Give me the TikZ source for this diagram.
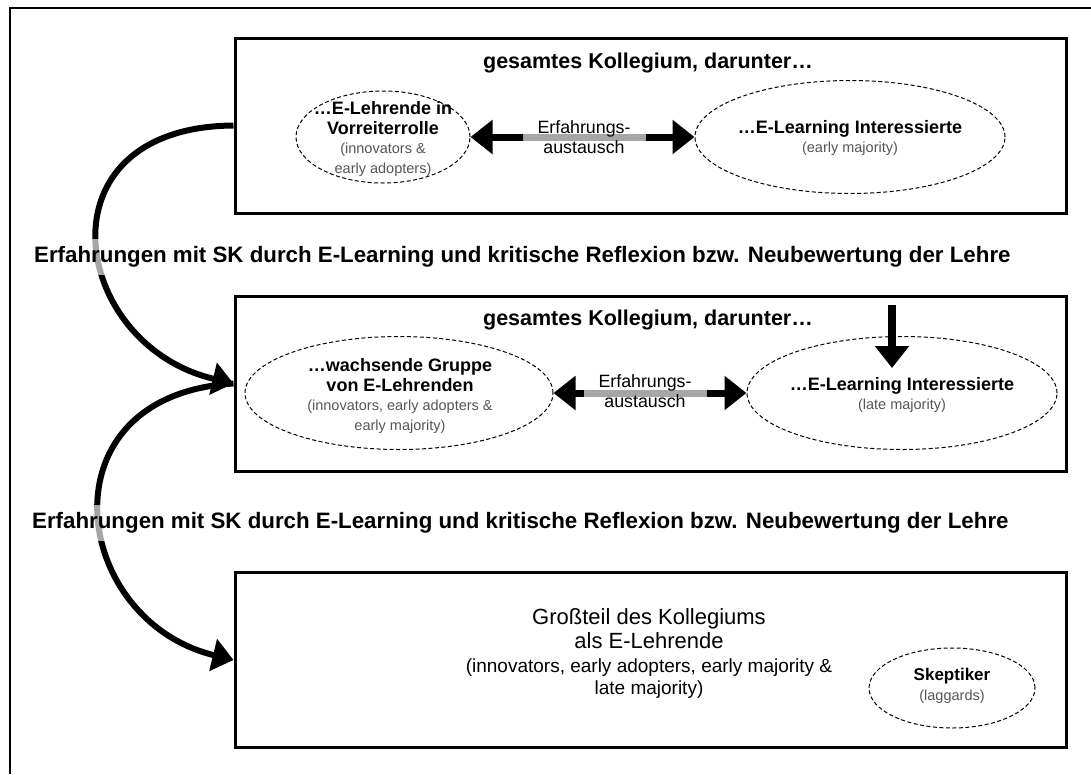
\documentclass[tikz,border=0pt]{standalone}
\usepackage{fontspec}
\setmainfont{Liberation Sans}
\usetikzlibrary{arrows.meta,shapes.geometric}
\definecolor{subgray}{RGB}{85,85,85}
\begin{document}
\begin{tikzpicture}[x=1pt,y=-1pt,
  stage/.style={draw,line width=3pt,inner sep=0pt,minimum width=831pt,minimum height=175pt},
  group/.style={draw,ellipse,line width=1pt,dash pattern=on 4pt off 2.5pt,inner sep=0pt},
  heading/.style={font=\fontsize{21.5}{24}\selectfont\bfseries},
  grouptext/.style={align=center,inner sep=0pt,font=\fontsize{18}{19.5}\selectfont},
  band/.style={fill=white,fill opacity=0.65,text opacity=1,inner sep=8pt,
    font=\fontsize{22.3}{24}\selectfont\bfseries},
  swap/.style={fill=white,fill opacity=0.65,text opacity=1,inner xsep=15pt,inner ysep=1pt,
    align=center,font=\fontsize{17.8}{20}\selectfont},
  dbl/.style={line width=7pt,{Triangle[length=22pt,width=33pt]}-{Triangle[length=22pt,width=33pt]}},
  flow/.style={line width=6pt,-{Triangle[length=21pt,width=32pt]}},
  push/.style={line width=7.5pt,-{Triangle[length=22pt,width=33pt]}}
]
\newcommand{\subtxt}[1]{{\fontsize{14.5}{18}\selectfont\color{subgray}#1}}
\useasboundingbox (0,0) rectangle (1091,774);

% outer frame
\draw[line width=1.5pt] (1091,8) -- (10,8) -- (10,774);

% three stages
\node[stage] (top) at (650.5,125.5) {};
\node[stage] (mid) at (650.5,383.5) {};
\node[stage] (bot) at (650.5,660) {};

% stage 1
\node[heading] (t1) at (648,63) {gesamtes Kollegium, darunter…};
\node[group,minimum width=174pt,minimum height=92pt] (e1) at (383,137) {};
\node[grouptext] (e1t) at (383,139) {\textbf{…E-Lehrende in}\\\textbf{Vorreiterrolle}\\\subtxt{(innovators \&}\\\subtxt{early adopters)}};
\node[group,minimum width=310pt,minimum height=113pt] (e2) at (850,137) {};
\node[grouptext] (e2t) at (850,138) {\textbf{…E-Learning Interessierte}\\\subtxt{(early majority)}};
\draw[dbl] (e1.east) -- (e2.west);
\node[swap] (x1) at (584,137) {Erfahrungs-\\austausch};

% stage 2
\node[heading] (t2) at (648,320) {gesamtes Kollegium, darunter…};
\node[group,minimum width=308pt,minimum height=113pt] (e3) at (399,393) {};
\node[grouptext] (e3t) at (400,396) {\textbf{…wachsende Gruppe}\\\textbf{von E-Lehrenden}\\\subtxt{(innovators, early adopters \&}\\\subtxt{early majority)}};
\node[group,minimum width=310pt,minimum height=113pt] (e4) at (902,393) {};
\node[grouptext] (e4t) at (902,395) {\textbf{…E-Learning Interessierte}\\\subtxt{(late majority)}};
\draw[dbl] (e3.east) -- (e4.west);
\node[swap] (x2) at (645,391) {Erfahrungs-\\austausch};
\coordinate (pushfrom) at (892,305);
\coordinate (pushto) at (892,368);
\draw[push] (pushfrom) -- (pushto);

% stage 3
\node[align=center,inner sep=0pt,font=\fontsize{22}{24}\selectfont] (bt) at (649,653)
  {Großteil des Kollegiums\\
   als E-Lehrende\\
   {\fontsize{19}{22}\selectfont (innovators, early adopters, early majority \&}\\[-2pt]
   {\fontsize{19}{22}\selectfont late majority)}};
\node[group,minimum width=166pt,minimum height=80pt] (e5) at (952,688) {};
\node[grouptext] (e5t) at (952,686) {{\fontsize{17}{19}\selectfont\bfseries Skeptiker}\\\subtxt{(laggards)}};

% transitions between the stages
\draw[flow] (top.west) .. controls (35,127) and (70,345) .. (mid.west);
\draw[flow] (mid.west) .. controls (40,395) and (70,620) .. (bot.west);
\node[band,anchor=west] (l1) at (26,257) {Erfahrungen mit SK durch E-Learning und kritische Reflexion bzw. Neubewertung der Lehre};
\node[band,anchor=west] (l2) at (24,523) {Erfahrungen mit SK durch E-Learning und kritische Reflexion bzw. Neubewertung der Lehre};
\end{tikzpicture}
\end{document}
